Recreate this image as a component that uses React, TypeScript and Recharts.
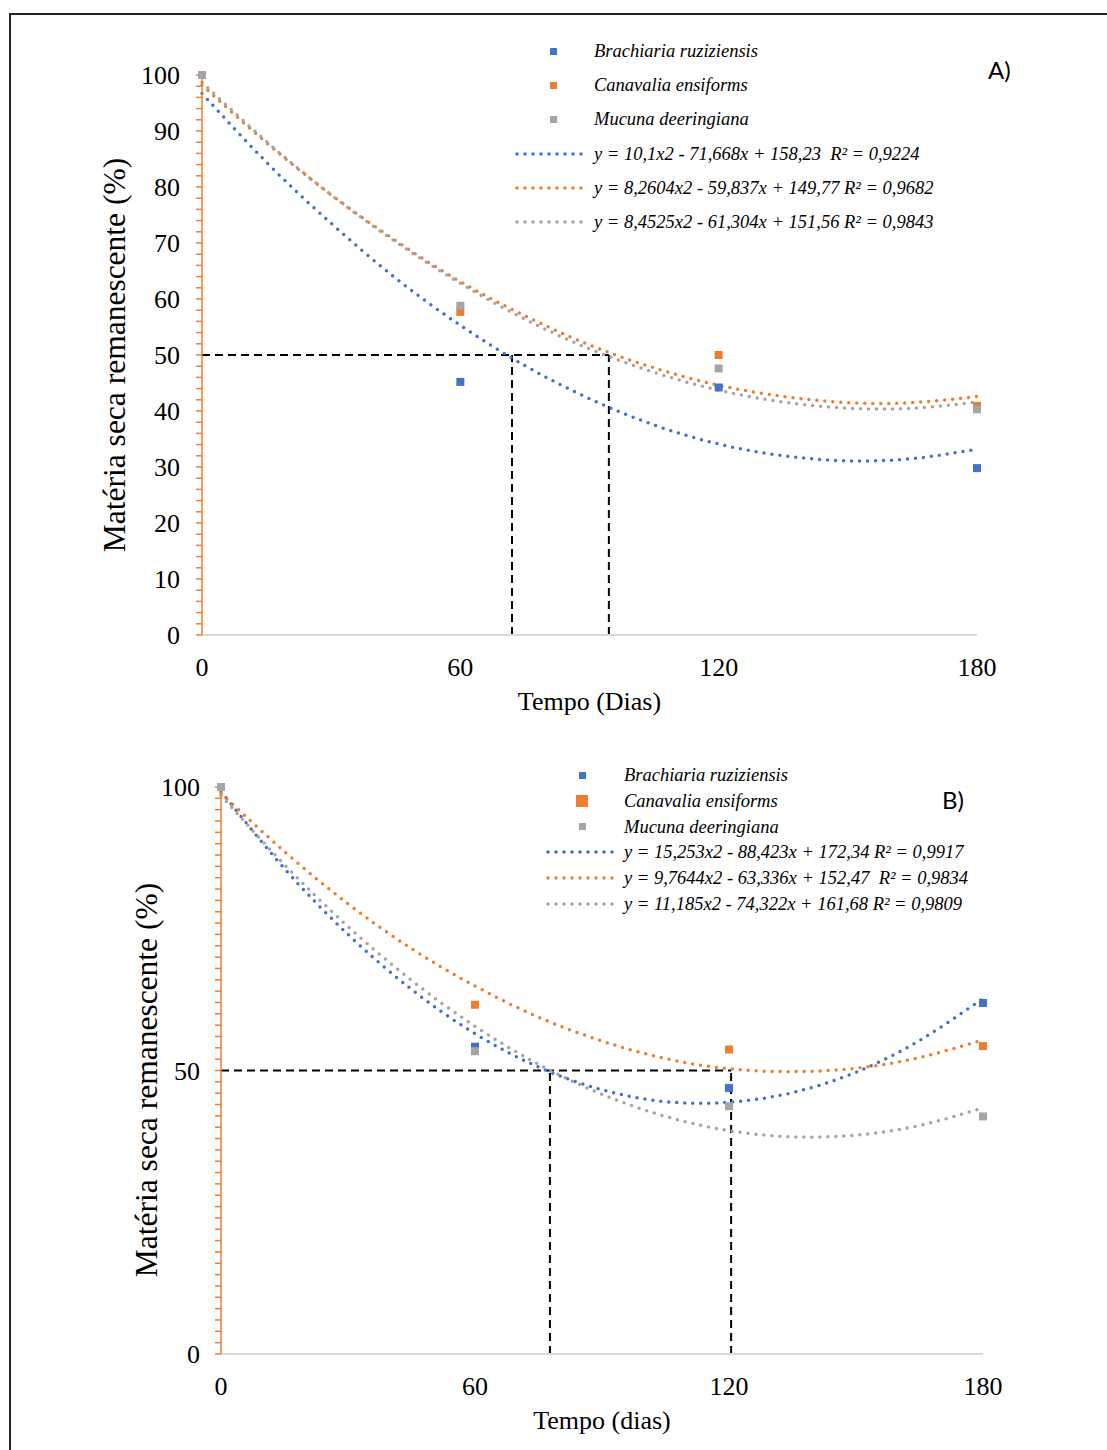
import React from 'react';
import { ComposedChart, Line, Scatter, XAxis, YAxis, ReferenceLine } from 'recharts';

const BLUE = '#4472C4';
const ORANGE = '#ED7D31';
const GRAY = '#A5A5A5';
const SERIF = '"Liberation Serif", "Times New Roman", serif';

// sampling days
const days = [0, 60, 120, 180];
const xTicks = [0, 60, 120, 180];

// A) observed dry matter remaining (%)
const aBrachiaria = [100, 45.2, 44.2, 29.8];
const aCanavalia = [100, 57.7, 50.0, 40.9];
const aMucuna = [100, 58.8, 47.6, 40.3];

// B) observed dry matter remaining (%)
const bBrachiaria = [100, 54.2, 46.9, 61.9];
const bCanavalia = [100, 61.6, 53.7, 54.3];
const bMucuna = [100, 53.4, 43.7, 41.9];

// trend curves every 15 days
const trendDays = [0, 15, 30, 45, 60, 75, 90, 105, 120, 135, 150, 165, 180];
const aTrendBrachiaria = [96.7, 84.4, 73.5, 63.7, 55.3, 48.1, 42.2, 37.5, 34.1, 32.0, 31.1, 31.5, 33.2];
const aTrendCanavalia = [98.2, 87.9, 78.6, 70.4, 63.1, 57.0, 51.8, 47.7, 44.6, 42.6, 41.5, 41.5, 42.6];
const aTrendMucuna = [98.7, 88.1, 78.6, 70.2, 62.8, 56.4, 51.1, 46.9, 43.7, 41.6, 40.5, 40.5, 41.6];
const bTrendBrachiaria = [99.2, 85.6, 74.0, 64.3, 56.5, 50.6, 46.6, 44.5, 44.4, 46.1, 49.7, 55.3, 62.7];
const bTrendCanavalia = [98.9, 88.6, 79.4, 71.5, 64.9, 59.4, 55.2, 52.1, 50.3, 49.8, 50.4, 52.3, 55.4];
const bTrendMucuna = [98.5, 86.3, 75.4, 65.9, 57.8, 51.1, 45.8, 41.9, 39.4, 38.3, 38.6, 40.3, 43.4];

// days at which 50% remains
const aHalfLife = [72, 94.5];
const bHalfLife = [77.7, 120.5];

const aYLabels = [0, 10, 20, 30, 40, 50, 60, 70, 80, 90, 100];
const bYLabels = [0, 50, 100];
const yMinorTicks = Array.from({ length: 51 }, (_, i) => i * 2);

const speciesNames = ['Brachiaria ruziziensis', 'Canavalia ensiforms', 'Mucuna deeringiana'];
const aEquations = [
  'y = 10,1x2 - 71,668x + 158,23  R² = 0,9224',
  'y = 8,2604x2 - 59,837x + 149,77 R² = 0,9682',
  'y = 8,4525x2 - 61,304x + 151,56 R² = 0,9843',
];
const bEquations = [
  'y = 15,253x2 - 88,423x + 172,34 R² = 0,9917',
  'y = 9,7644x2 - 63,336x + 152,47  R² = 0,9834',
  'y = 11,185x2 - 74,322x + 161,68 R² = 0,9809',
];

const colors = [BLUE, ORANGE, GRAY];

const toRows = (xs: number[], ys: number[]) => xs.map((d, i) => ({ day: d, value: ys[i] }));

interface PanelProps {
  top: number;
  height: number;
  margin: { top: number; right: number; bottom: number; left: number };
  points: number[][];
  trends: number[][];
  halfLife: number[];
  yLabels: number[];
  tickMargin: number;
  xTitle: string;
  letter: string;
  letterPos: { x: number; y: number };
  equations: string[];
  legend: { y: number; row: number; marker: number; lineX: number; textX: number; bigOrange?: boolean };
  yTitlePos: { x: number; y: number };
}

const YTick = ({ x, y, payload, labels }: any) => {
  if (!labels.includes(payload.value)) return <g />;
  return (
    <text x={x} y={y} dy="0.355em" textAnchor="end" fill="#000" fontSize={26} fontFamily={SERIF}>
      {payload.value}
    </text>
  );
};

const Square = (color: string, size: number) => (props: any) => {
  const { cx, cy } = props;
  if (cx == null || cy == null) return <g />;
  return <rect x={cx - size / 2} y={cy - size / 2} width={size} height={size} fill={color} />;
};

const Panel: React.FC<PanelProps> = (p) => {
  const w = 1107;
  const plotLeft = p.margin.left + 60;
  const plotRight = w - p.margin.right;
  const plotBottom = p.height - p.margin.bottom - 60;
  const half = Math.max(...p.halfLife);
  const lg = p.legend;
  return (
    <div style={{ position: 'absolute', left: 0, top: p.top, width: w, height: p.height }}>
      <ComposedChart width={w} height={p.height} margin={p.margin}>
        <XAxis
          type="number"
          dataKey="day"
          domain={[0, 180]}
          ticks={xTicks}
          height={60}
          tickLine={false}
          tickSize={0}
          tickMargin={23}
          axisLine={{ stroke: '#D9D9D9', strokeWidth: 2 }}
          tick={{ fill: '#000', fontSize: 26, fontFamily: SERIF }}
        />
        <YAxis
          type="number"
          domain={[0, 100]}
          ticks={yMinorTicks}
          interval={0}
          width={60}
          tickSize={6}
          tickMargin={p.tickMargin}
          axisLine={{ stroke: ORANGE, strokeWidth: 1.5 }}
          tickLine={{ stroke: ORANGE, strokeWidth: 1.5 }}
          tick={<YTick labels={p.yLabels} />}
        />
        <ReferenceLine
          segment={[{ x: 0, y: 50 }, { x: half, y: 50 }]}
          stroke="#000"
          strokeWidth={2}
          strokeDasharray="8 5"
        />
        {p.halfLife.map((d) => (
          <ReferenceLine
            key={d}
            segment={[{ x: d, y: 0 }, { x: d, y: 50 }]}
            stroke="#000"
            strokeWidth={2}
            strokeDasharray="8 5"
          />
        ))}
        {p.points.map((ys, i) => (
          <Scatter
            key={`pt-${i}`}
            data={toRows(days, ys)}
            dataKey="value"
            shape={Square(colors[i], 8)}
            isAnimationActive={false}
          />
        ))}
        {p.trends.map((ys, i) => (
          <Line
            key={`tr-${i}`}
            data={toRows(trendDays, ys)}
            dataKey="value"
            type="natural"
            stroke={colors[i]}
            strokeWidth={3.5}
            strokeDasharray="0 8"
            strokeLinecap="round"
            dot={false}
            activeDot={false}
            isAnimationActive={false}
          />
        ))}
      </ComposedChart>

      {/* axis titles */}
      <div
        style={{
          position: 'absolute',
          left: (plotLeft + plotRight) / 2 - 200,
          width: 400,
          top: plotBottom + 52,
          textAlign: 'center',
          fontFamily: SERIF,
          fontSize: 26,
          lineHeight: '30px',
        }}
      >
        {p.xTitle}
      </div>
      <div
        style={{
          position: 'absolute',
          left: p.yTitlePos.x - 250,
          top: p.yTitlePos.y - p.top - 18,
          width: 500,
          height: 36,
          lineHeight: '36px',
          textAlign: 'center',
          transform: 'rotate(-90deg)',
          fontFamily: SERIF,
          fontSize: 31.5,
          whiteSpace: 'nowrap',
        }}
      >
        Matéria seca remanescente (%)
      </div>

      {/* panel letter */}
      <div
        style={{
          position: 'absolute',
          left: p.letterPos.x,
          top: p.letterPos.y - p.top - 15,
          fontFamily: 'Lato, "Open Sans", sans-serif',
          fontSize: 24,
          lineHeight: '30px',
        }}
      >
        {p.letter}
      </div>

      {/* legend */}
      {speciesNames.map((name, i) => {
        const sz = lg.bigOrange && i === 1 ? 12 : 7;
        const cy = lg.y + i * lg.row - p.top;
        return (
          <React.Fragment key={name}>
            <div
              style={{
                position: 'absolute',
                left: lg.marker - sz / 2,
                top: cy - sz / 2,
                width: sz,
                height: sz,
                background: colors[i],
              }}
            />
            <div
              style={{
                position: 'absolute',
                left: lg.textX,
                top: cy - 12,
                lineHeight: '24px',
                fontFamily: SERIF,
                fontStyle: 'italic',
                fontSize: 18.5,
                whiteSpace: 'pre',
              }}
            >
              {name}
            </div>
          </React.Fragment>
        );
      })}
      {p.equations.map((eq, i) => {
        const cy = lg.y + (i + 3) * lg.row - p.top;
        return (
          <React.Fragment key={eq}>
            <svg
              style={{ position: 'absolute', left: lg.lineX, top: cy - 4 }}
              width={lg.textX - lg.lineX - 4}
              height={8}
            >
              <line
                x1={2}
                y1={4}
                x2={lg.textX - lg.lineX - 6}
                y2={4}
                stroke={colors[i]}
                strokeWidth={3.5}
                strokeDasharray="0 8"
                strokeLinecap="round"
              />
            </svg>
            <div
              style={{
                position: 'absolute',
                left: lg.textX,
                top: cy - 12,
                lineHeight: '24px',
                fontFamily: SERIF,
                fontStyle: 'italic',
                fontSize: 18.5,
                whiteSpace: 'pre',
              }}
            >
              {eq}
            </div>
          </React.Fragment>
        );
      })}
    </div>
  );
};

const App: React.FC = () => {
  return (
    <div
      style={{
        position: 'absolute',
        left: 0,
        top: 0,
        width: 1107,
        height: 1450,
        overflow: 'hidden',
        background: '#fff',
        fontFamily: SERIF,
      }}
    >
      <div
        style={{
          position: 'absolute',
          left: 9,
          top: 13,
          width: 1300,
          height: 1600,
          borderLeft: '2px solid #222',
          borderTop: '2px solid #222',
        }}
      />
      <Panel
        top={0}
        height={740}
        margin={{ top: 75, right: 130, bottom: 45, left: 142 }}
        points={[aBrachiaria, aCanavalia, aMucuna]}
        trends={[aTrendBrachiaria, aTrendCanavalia, aTrendMucuna]}
        halfLife={aHalfLife}
        yLabels={aYLabels}
        tickMargin={16}
        xTitle="Tempo (Dias)"
        letter="A)"
        letterPos={{ x: 988, y: 70 }}
        equations={aEquations}
        legend={{ y: 51, row: 34.2, marker: 553, lineX: 515, textX: 594 }}
        yTitlePos={{ x: 115, y: 355 }}
      />
      <Panel
        top={740}
        height={710}
        margin={{ top: 47, right: 124, bottom: 36, left: 161 }}
        points={[bBrachiaria, bCanavalia, bMucuna]}
        trends={[bTrendBrachiaria, bTrendCanavalia, bTrendMucuna]}
        halfLife={bHalfLife}
        yLabels={bYLabels}
        tickMargin={15}
        xTitle="Tempo (dias)"
        letter="B)"
        letterPos={{ x: 942, y: 800 }}
        equations={bEquations}
        legend={{ y: 775, row: 25.8, marker: 582, lineX: 546, textX: 624, bigOrange: true }}
        yTitlePos={{ x: 147, y: 1080 }}
      />
    </div>
  );
};

export default App;
